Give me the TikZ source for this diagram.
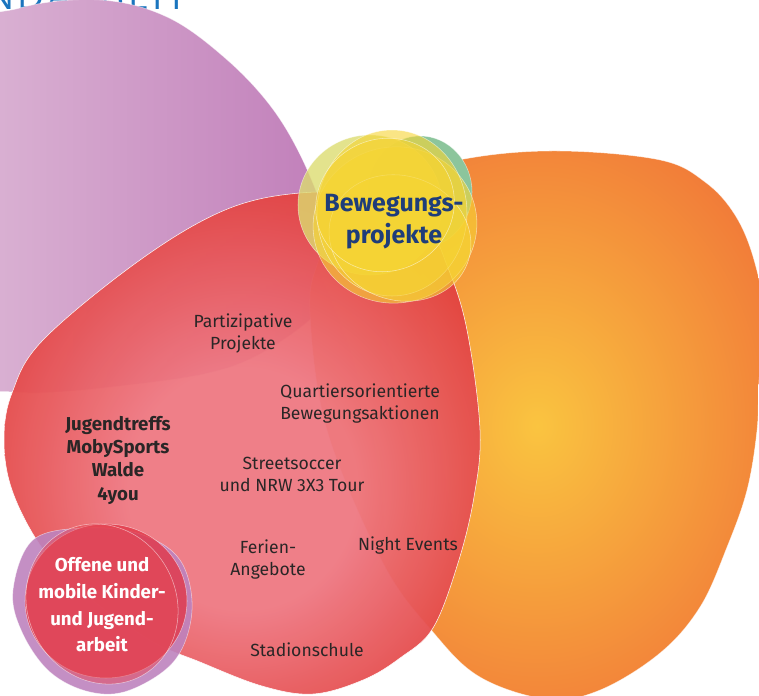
\documentclass[tikz,border=0pt]{standalone}
\usepackage{fontspec}
\setmainfont{Fira Sans}
\newfontfamily\headfont{Open Sans}[LetterSpace=9.0]
\usepackage{tikz}

\definecolor{purpleL}{HTML}{DFBCD8}
\definecolor{purpleR}{HTML}{C07DB9}
\definecolor{redOut}{HTML}{E13A36}
\definecolor{redIn}{HTML}{EE7882}
\definecolor{orangeOut}{HTML}{F07238}
\definecolor{orangeIn}{HTML}{FAC440}
\definecolor{yellowMain}{HTML}{F6D433}
\definecolor{yellowGreen}{HTML}{DCDC70}
\definecolor{blobGreen}{HTML}{8CC59C}
\definecolor{smallRed}{HTML}{E23848}
\definecolor{smallPurple}{HTML}{BE83BE}
\definecolor{txtDark}{HTML}{2A2626}
\definecolor{txtBlue}{HTML}{1F3D7A}
\definecolor{headBlue}{HTML}{1A75BE}

\pgfdeclareradialshading{redglow}{\pgfpoint{0bp}{-6bp}}{color(0bp)=(redIn); color(12bp)=(redIn); color(31bp)=(redOut); color(50bp)=(redOut)}
\pgfdeclareradialshading{orangeglow}{\pgfpoint{0bp}{0bp}}{color(0bp)=(orangeIn); color(33bp)=(orangeOut); color(50bp)=(orangeOut)}

\begin{document}
\begin{tikzpicture}[
        x=0.75pt, y=-0.75pt,
        edge/.style={draw=white, draw opacity=0.55, line width=0.4pt},
        yellowblob/.style={edge, fill=yellowMain, fill opacity=0.6},
        lbl/.style={align=center, inner sep=0pt, text=txtDark, font=\fontsize{13.2}{16.5}\selectfont},
        lblbold/.style={lbl, font=\fontsize{14}{17.5}\selectfont\bfseries},
        whitebold/.style={align=center, inner sep=0pt, text=white, font=\fontsize{14}{20}\selectfont\bfseries},
        bluebold/.style={align=center, inner sep=0pt, text=txtBlue, font=\fontsize{18.7}{24}\selectfont\bfseries},
        ]
        \useasboundingbox (0,0) rectangle (759,695);
        \clip (0,0) rectangle (759,695);

        % Heading, cut by the top border
        \node[anchor=base west, inner sep=0pt, text=headBlue, font=\headfont\fontsize{28}{28}\selectfont] (header) at (-14,10) {NDARBEIT};

        % Purple blob (top left)
        \shade[edge, left color=purpleL, right color=purpleR]
            plot[smooth cycle, tension=0.6] coordinates {(-80,200) (-40,40) (20,8) (100,0) (167,17) (225,58) (272,108) (305,165) (328,228) (333,278) (312,318) (233,366) (120,386) (13,392) (-60,370)};

        % Orange blob (right)
        \shade[edge, shading=orangeglow]
            plot[smooth cycle, tension=0.6] coordinates {(470,158) (560,151) (660,160) (705,182) (735,215) (754,260) (765,320) (759,380) (757,430) (747,490) (727,547) (700,607) (660,653) (600,690) (547,699) (480,677) (433,632) (383,563) (327,430) (310,313) (318,262) (340,220) (390,180)};

        % Red blob (centre)
        \shade[edge, shading=redglow, opacity=0.95]
            plot[smooth cycle, tension=0.6] coordinates {(300,193) (370,197) (425,225) (448,268) (467,330) (480,430) (474,497) (458,563) (433,628) (400,658) (363,680) (313,694) (262,686) (200,662) (150,640) (80,590) (40,545) (12,490) (4,440) (12,393) (43,340) (140,260) (225,210)};

        % Yellow cluster
        \fill[edge, fill=blobGreen] (420,192) ellipse [x radius=52, y radius=56];
        \fill[edge, fill=yellowGreen, fill opacity=0.8] (370,205) ellipse [x radius=72, y radius=70];
        \fill[yellowblob] (395,225) ellipse [x radius=82, y radius=78, rotate=10];
        \fill[yellowblob] (392,213) ellipse [x radius=75, y radius=83];
        \fill[yellowblob] (400,238) ellipse [x radius=72, y radius=62, rotate=-20];
        \fill[yellowblob] (385,205) ellipse [x radius=70, y radius=66, rotate=25];

        % Small cluster (bottom left)
        \fill[edge, fill=smallPurple, fill opacity=0.9]
            plot[smooth cycle, tension=0.6] coordinates {(33,540) (85,528) (140,534) (180,560) (192,610) (175,660) (130,690) (90,692) (50,672) (22,632) (13,590)};
        \fill[edge, fill=smallRed, fill opacity=0.8] (106,601) ellipse [x radius=81, y radius=77];
        \fill[edge, fill=smallRed!75!redIn, fill opacity=0.5] (102,604) ellipse [x radius=74, y radius=82, rotate=30];

        % Labels
        \node[bluebold] (bewegung) at (394,222) {Bewegungs-\\projekte};
        \node[lbl] (partizip) at (243,333) {Partizipative\\Projekte};
        \node[lbl] (quartier) at (360,404) {Quartiersorientierte\\Bewegungsaktionen};
        \node[lblbold] (jugendtreffs) at (118,460) {Jugendtreffs\\MobySports\\Walde\\4you};
        \node[lbl] (streetsoccer) at (292,474) {Streetsoccer\\und NRW 3X3 Tour};
        \node[lbl] (ferien) at (268,560) {Ferien-\\Angebote};
        \node[lbl] (nightevents) at (408,546) {Night Events};
        \node[lbl] (stadion) at (307,650) {Stadionschule};
        \node[whitebold] (offene) at (102,605) {Offene und\\mobile Kinder-\\und Jugend-\\arbeit};

    \end{tikzpicture}
\end{document}
